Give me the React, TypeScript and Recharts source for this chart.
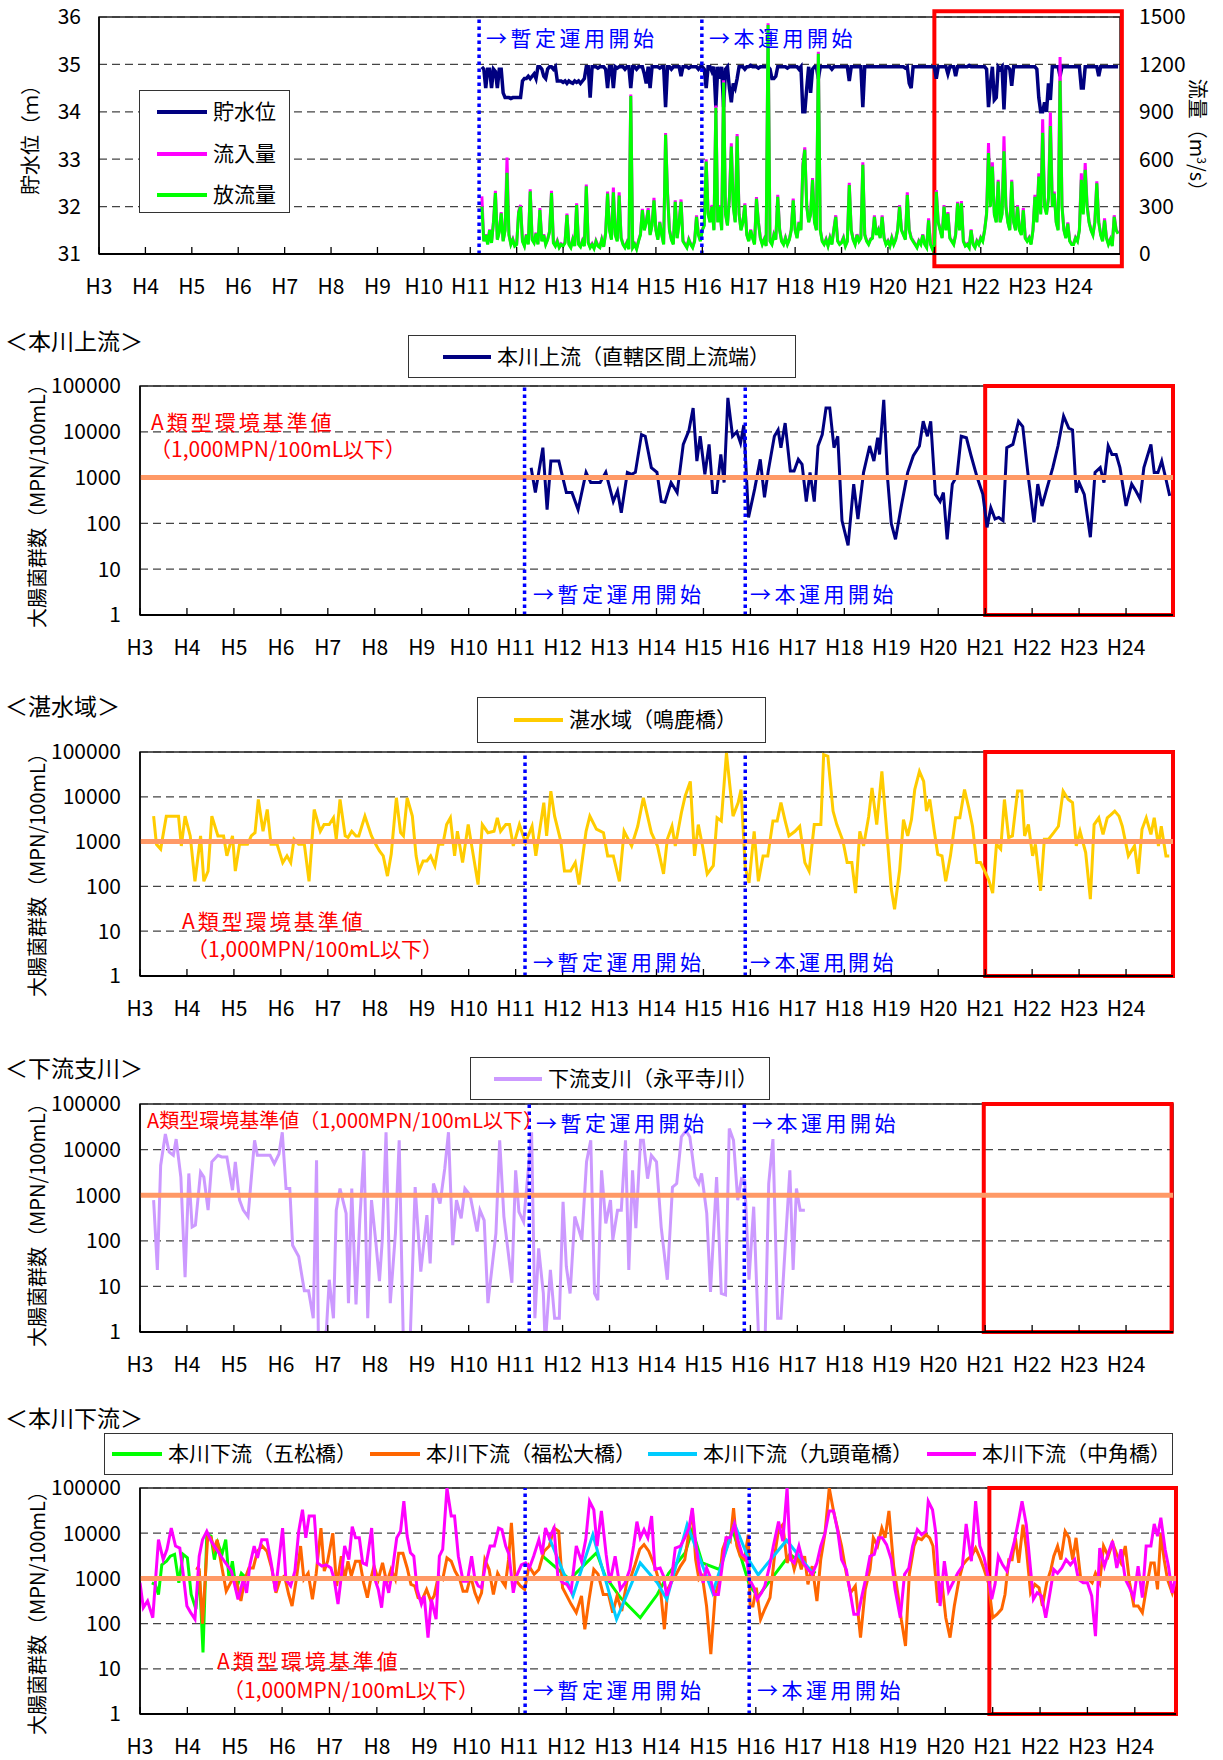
import React from "react";
import { LineChart, Line, XAxis, YAxis, CartesianGrid, ReferenceLine, ReferenceArea } from "recharts";

const FONT = "'Noto Sans CJK JP', 'Noto Sans', sans-serif";
const PAGE_W = 1223;

const yearTicks = [3, 4, 5, 6, 7, 8, 9, 10, 11, 12, 13, 14, 15, 16, 17, 18, 19, 20, 21, 22, 23, 24];
const logTicks = [1, 10, 100, 1000, 10000, 100000];
const levelTicks = [31, 32, 33, 34, 35, 36];
const flowTicks = [0, 300, 600, 900, 1200, 1500];
const STANDARD = 1000;

// ダム：半月ごと（H11.25 から）
const DAM_START = 11.25;
const levelValues = [
  34.95, 34.9, 34.5, 34.9, 34.9, 34.5, 34.9, 34.85, 34.5, 34.9, 34.9, 34.4, 34.3, 34.3, 34.3, 34.28, 34.3, 34.3,
  34.3, 34.3, 34.3, 34.65, 34.7, 34.7, 34.75, 34.7, 34.75, 34.8, 34.7, 34.95, 34.95, 34.9, 34.75, 34.7, 34.9, 34.95, 34.95, 34.9, 34.95, 34.65, 34.65, 34.65,
  34.62, 34.65, 34.6, 34.65, 34.62, 34.6, 34.65, 34.62, 34.65, 34.6, 34.65, 34.7, 34.95, 34.95, 34.3, 34.95, 34.95, 34.95, 34.92, 34.95, 34.95, 34.95, 34.9, 34.5,
  34.95, 34.95, 34.5, 34.95, 34.92, 34.95, 34.95, 34.95, 34.9, 34.95, 34.95, 34.5, 34.95, 34.95, 34.9, 34.95, 34.95, 34.95, 34.8, 34.6, 34.95, 34.5, 34.95, 34.95,
  34.95, 34.95, 34.92, 34.95, 34.95, 34.1, 34.95, 34.95, 34.9, 34.95, 34.95, 34.95, 34.95, 34.75, 34.95, 34.95, 34.95, 34.92, 34.95, 34.95, 34.95, 34.95, 34.9, 34.95,
  34.95, 34.9, 34.5, 34.95, 34.95, 34.85, 34.95, 34.1, 34.95, 34.7, 34.95, 34.1, 34.9, 34.95, 34.5, 34.2, 34.6, 34.5, 34.7, 34.95, 34.95, 34.95, 34.9, 34.95,
  34.95, 34.98, 34.95, 34.95, 34.95, 34.92, 34.95, 34.95, 34.95, 34.95, 34.95, 34.9, 34.7, 34.7, 34.75, 34.95, 34.95, 34.95, 34.95, 34.95, 34.92, 34.95, 34.95, 34.95,
  34.95, 34.95, 34.9, 34.95, 34.0, 34.0, 34.5, 34.95, 34.4, 34.9, 34.95, 34.95, 34.7, 34.95, 34.95, 34.95, 34.95, 34.95, 34.95, 34.9, 34.95, 34.95, 34.95, 34.95,
  34.95, 34.95, 34.95, 34.95, 34.65, 34.95, 34.95, 34.95, 34.95, 34.95, 34.95, 34.1, 34.95, 34.95, 34.95, 34.95, 34.95, 34.95, 34.95, 34.95, 34.95, 34.95, 34.95, 34.95,
  34.95, 34.95, 34.95, 34.95, 34.95, 34.95, 34.95, 34.95, 34.95, 34.92, 34.95, 34.6, 34.5, 34.95, 34.95, 34.95, 34.95, 34.95, 34.95, 34.95, 34.95, 34.95, 34.95, 34.95,
  34.95, 34.7, 34.95, 34.95, 34.95, 34.95, 34.95, 34.8, 34.95, 34.95, 34.95, 34.75, 34.95, 34.95, 34.95, 34.95, 34.95, 34.95, 34.98, 34.95, 34.95, 34.95, 34.95, 34.95,
  34.95, 34.95, 34.95, 34.9, 34.1, 34.6, 34.95, 34.25, 34.3, 34.95, 34.9, 34.95, 34.05, 34.95, 34.95, 34.9, 34.55, 34.95, 34.95, 34.95, 34.95, 34.95, 34.95, 34.95,
  34.95, 34.95, 34.95, 34.95, 34.95, 34.9, 34.3, 34.0, 34.0, 34.2, 34.0, 34.6, 34.25, 34.95, 34.95, 34.95, 34.95, 34.75, 34.95, 34.95, 34.95, 34.95, 34.95, 34.95,
  34.95, 34.95, 34.95, 34.95, 34.5, 34.5, 34.95, 34.95, 34.95, 34.95, 34.95, 34.95, 34.95, 34.75, 34.95, 34.95, 34.95, 34.95, 34.95, 34.95, 34.95, 34.95, 34.95, 34.95,
];
const outflowValues = [
  300, 80, 120, 60, 150, 70, 200, 385, 90, 140, 257, 80, 150, 514, 120, 60, 90, 50,
  60, 260, 300, 80, 50, 120, 60, 396, 90, 70, 130, 60, 278, 80, 120, 60, 90, 140, 385, 70, 50, 80, 40, 60,
  50, 70, 246, 60, 40, 90, 50, 310, 60, 45, 80, 50, 428, 70, 40, 60, 35, 80, 50, 40, 90, 45, 130, 383,
  150, 90, 390, 120, 80, 370, 100, 60, 40, 70, 30, 1000, 40, 60, 30, 80, 120, 277, 150, 200, 277, 120, 180, 340,
  150, 90, 200, 120, 60, 755, 383, 150, 90, 60, 330, 100, 200, 330, 80, 60, 40, 90, 60, 40, 80, 235, 120, 80,
  150, 180, 585, 250, 200, 300, 150, 926, 200, 300, 150, 1085, 250, 180, 350, 680, 300, 200, 745, 250, 150, 200, 310, 120,
  80, 150, 100, 60, 350, 200, 100, 60, 90, 50, 1450, 80, 60, 120, 90, 362, 150, 80, 60, 100, 60, 90, 150, 340,
  150, 100, 200, 150, 554, 660, 300, 200, 250, 469, 200, 150, 1267, 150, 80, 60, 90, 50, 100, 60, 150, 235, 80, 60,
  70, 100, 50, 80, 437, 150, 90, 60, 120, 80, 100, 565, 120, 80, 60, 90, 100, 235, 120, 150, 100, 235, 100, 60,
  80, 50, 100, 60, 90, 150, 300, 150, 120, 90, 373, 150, 100, 80, 60, 40, 80, 60, 120, 60, 40, 213, 60, 30,
  60, 394, 200, 150, 100, 300, 150, 255, 100, 80, 60, 120, 320, 150, 320, 80, 50, 60, 40, 150, 60, 40, 80, 60,
  100, 80, 150, 250, 639, 300, 554, 250, 200, 458, 200, 250, 650, 300, 200, 150, 458, 200, 150, 300, 150, 120, 277, 100,
  80, 100, 60, 150, 362, 200, 490, 250, 767, 300, 250, 350, 810, 300, 383, 200, 150, 1097, 300, 150, 100, 192, 80, 60,
  60, 100, 80, 150, 469, 250, 533, 300, 200, 150, 120, 200, 447, 200, 120, 80, 213, 100, 60, 90, 50, 235, 150, 128,
];
const inflowValues = [
  365, 85, 125, 65, 155, 75, 205, 400, 95, 145, 265, 85, 155, 610, 125, 65, 95, 55,
  65, 270, 310, 85, 55, 125, 65, 410, 95, 75, 135, 65, 290, 85, 125, 65, 95, 145, 400, 75, 55, 85, 45, 65,
  55, 75, 255, 65, 45, 95, 55, 320, 65, 50, 85, 55, 440, 75, 45, 65, 40, 85, 55, 45, 95, 50, 135, 395,
  160, 95, 420, 125, 85, 390, 105, 65, 45, 75, 35, 1010, 45, 65, 35, 85, 125, 285, 155, 205, 290, 125, 185, 355,
  155, 95, 205, 125, 65, 766, 395, 155, 95, 65, 340, 105, 205, 345, 85, 65, 45, 95, 65, 45, 85, 245, 125, 85,
  155, 185, 600, 260, 205, 310, 155, 940, 205, 310, 155, 1100, 260, 185, 360, 700, 310, 205, 760, 260, 155, 205, 320, 125,
  85, 155, 105, 65, 360, 205, 105, 65, 95, 55, 1460, 85, 65, 125, 95, 375, 155, 85, 65, 105, 65, 95, 155, 350,
  155, 105, 205, 155, 570, 675, 310, 205, 255, 480, 205, 155, 1280, 155, 85, 65, 95, 55, 105, 65, 155, 245, 85, 65,
  75, 105, 55, 85, 450, 155, 95, 65, 125, 85, 105, 580, 125, 85, 65, 95, 105, 245, 125, 155, 105, 245, 105, 65,
  85, 55, 105, 65, 95, 155, 310, 155, 125, 95, 390, 155, 105, 85, 65, 45, 85, 65, 125, 65, 45, 225, 65, 35,
  65, 405, 205, 155, 105, 310, 155, 265, 105, 85, 65, 125, 330, 155, 335, 85, 55, 65, 45, 155, 65, 45, 85, 65,
  105, 85, 155, 260, 703, 310, 580, 260, 205, 470, 205, 260, 745, 310, 205, 155, 470, 205, 155, 310, 155, 125, 290, 105,
  85, 105, 65, 155, 375, 205, 510, 260, 852, 310, 260, 360, 895, 310, 395, 205, 155, 1246, 310, 155, 105, 200, 85, 65,
  65, 105, 85, 155, 511, 260, 575, 310, 205, 155, 125, 205, 460, 205, 125, 85, 225, 105, 65, 95, 55, 245, 155, 135,
];

// 本川上流（直轄区間上流端）
const upperYears = [
  11.33, 11.42, 11.58, 11.67, 11.75, 11.92,
  12.08, 12.2, 12.33, 12.5, 12.6, 12.8, 12.92,
  13.08, 13.17, 13.25, 13.38, 13.47, 13.55, 13.68, 13.76, 13.89,
  14.01, 14.1, 14.18, 14.31, 14.44, 14.57, 14.69, 14.78, 14.86, 14.93,
  15.03, 15.12, 15.2, 15.28, 15.37, 15.44, 15.52, 15.62, 15.71, 15.79, 15.86, 15.96,
  16.09, 16.21, 16.3, 16.38, 16.51, 16.59, 16.65, 16.74, 16.85, 16.93,
  17.02, 17.1, 17.19, 17.27, 17.36, 17.44, 17.53, 17.61, 17.69, 17.78, 17.86, 17.95,
  18.08, 18.2, 18.29, 18.41, 18.54, 18.63, 18.71, 18.75, 18.84, 18.92,
  19.0, 19.09, 19.22, 19.35, 19.47, 19.6, 19.68, 19.77, 19.84, 19.94,
  20.04, 20.11, 20.19, 20.3, 20.4, 20.49, 20.6, 20.7, 20.83, 20.95,
  21.04, 21.12, 21.21, 21.29, 21.38, 21.46, 21.59, 21.71, 21.8, 21.92,
  22.04, 22.12, 22.21, 22.31, 22.44, 22.55, 22.67, 22.78, 22.86, 22.94,
  23.0, 23.11, 23.24, 23.34, 23.45, 23.53, 23.62, 23.7, 23.79, 23.87,
  24.0, 24.12, 24.21, 24.3, 24.38, 24.53, 24.6, 24.68, 24.76, 24.85, 24.93,
];
const upperValues = [
  1650, 470, 4500, 200, 2300, 2300,
  470, 470, 200, 1300, 780, 780, 1300,
  300, 510, 170, 1300, 1180, 1300, 8700, 8000, 1650,
  1300, 300, 290, 780, 470, 5300, 10700, 33000, 2300, 8000,
  1180, 5300, 470, 470, 3200, 780, 55000, 8000, 10000, 5700, 14000, 135,
  560, 2500, 370, 1400, 8000, 11000, 4500, 15500, 1400, 1400,
  2500, 1950, 300, 1300, 300, 4900, 8700, 33000, 33000, 4500, 8000, 115,
  33, 720, 125, 1300, 4900, 2300, 7400, 3200, 50000, 1000,
  100, 45, 260, 1300, 3000, 4900, 17000, 8000, 17000, 430,
  300, 470, 45, 720, 1100, 8000, 7400, 3000, 1000, 430,
  82, 220, 125, 135, 115, 4500, 5300, 17000, 13000, 1000,
  105, 720, 240, 560, 1650, 4900, 22000, 12000, 11000, 470,
  780, 430, 50, 1300, 1650, 780, 4900, 3200, 3200, 1650,
  240, 720, 510, 340, 1650, 5300, 1300, 1300, 2300, 920, 400,
];

// 湛水域（鳴鹿橋）
const lakeYears = [
  3.29, 3.35, 3.44, 3.56, 3.69, 3.82, 3.88, 3.96,
  4.07, 4.17, 4.29, 4.36, 4.45, 4.53, 4.66, 4.78, 4.85, 4.97,
  5.03, 5.12, 5.29, 5.37, 5.45, 5.52, 5.62, 5.71, 5.79, 5.92,
  6.04, 6.13, 6.21, 6.28, 6.38, 6.5, 6.6, 6.71, 6.84, 6.92,
  7.03, 7.12, 7.18, 7.26, 7.37, 7.43, 7.51, 7.6, 7.66, 7.79, 7.93,
  8.02, 8.1, 8.18, 8.27, 8.35, 8.46, 8.55, 8.61, 8.69, 8.8, 8.88, 8.94,
  9.03, 9.11, 9.19, 9.28, 9.36, 9.45, 9.53, 9.61, 9.7, 9.76, 9.87, 9.99,
  10.1, 10.2, 10.29, 10.41, 10.54, 10.61, 10.68, 10.79, 10.87, 10.95,
  11.08, 11.21, 11.35, 11.43, 11.6, 11.66, 11.75, 11.83, 11.96,
  12.04, 12.17, 12.27, 12.35, 12.5, 12.58, 12.72, 12.87, 12.96,
  13.08, 13.21, 13.31, 13.47, 13.6, 13.72, 13.89,
  14.02, 14.15, 14.23, 14.33, 14.4, 14.53, 14.61, 14.72, 14.81, 14.89, 14.98,
  15.08, 15.21, 15.29, 15.38, 15.49, 15.63, 15.74, 15.8, 15.89, 15.97,
  16.08, 16.17, 16.27, 16.37, 16.48, 16.57, 16.65, 16.74, 16.82, 16.95,
  17.05, 17.16, 17.25, 17.36, 17.5, 17.56, 17.65, 17.76, 17.84, 17.97,
  18.06, 18.16, 18.24, 18.33, 18.41, 18.52, 18.59, 18.69, 18.8, 18.9,
  19.0, 19.07, 19.18, 19.26, 19.35, 19.43, 19.5, 19.6, 19.69, 19.75, 19.82, 19.91, 19.99,
  20.08, 20.16, 20.26, 20.37, 20.46, 20.56, 20.65, 20.73, 20.82, 20.9, 20.99,
  21.07, 21.16, 21.24, 21.33, 21.41, 21.5, 21.58, 21.69, 21.78, 21.84, 21.92,
  22.01, 22.07, 22.18, 22.26, 22.35, 22.46, 22.56, 22.66, 22.77, 22.86, 22.94,
  23.02, 23.14, 23.24, 23.32, 23.42, 23.51, 23.6, 23.68, 23.76, 23.85, 23.92,
  24.05, 24.18, 24.26, 24.34, 24.43, 24.53, 24.6, 24.69, 24.75, 24.85, 24.92,
];
const lakeValues = [
  3700, 870, 680, 3700, 3700, 3700, 800, 3700,
  1340, 130, 1340, 130, 220, 3700, 1340, 1340, 480, 1340,
  220, 870, 870, 1340, 1580, 8700, 1700, 5200, 870, 870,
  340, 480, 340, 1130, 870, 870, 130, 5200, 1700, 2400,
  2400, 3400, 1130, 8700, 1340, 1230, 1700, 1340, 1340, 3700, 1340,
  870, 620, 480, 170, 520, 9500, 1580, 1340, 9500, 3700, 480, 220,
  370, 370, 480, 290, 870, 870, 2400, 3400, 480, 1700, 340, 2400,
  480, 110, 2400, 1580, 1700, 3400, 1700, 2400, 2400, 800,
  2400, 950, 2200, 480, 7400, 1340, 13400, 3700, 1040,
  220, 220, 340, 110, 1700, 3700, 1900, 1580, 480,
  480, 130, 1700, 800, 2200, 9500, 1580,
  800, 190, 1130, 2200, 800, 4400, 10300, 22000, 480, 2400, 800,
  190, 290, 3400, 2900, 95000, 3700, 7400, 14500, 265, 120,
  1700, 130, 480, 480, 2900, 2900, 7400, 2900, 1340, 1700,
  2200, 340, 220, 2400, 2400, 87000, 80000, 4800, 2400, 1040,
  340, 340, 71, 1700, 800, 3700, 15800, 2400, 37000, 1880,
  87, 31, 240, 3100, 1340, 3100, 14500, 37000, 22000, 4800, 8700, 1880, 520,
  480, 130, 480, 3400, 3400, 14500, 5700, 2200, 340, 340, 220,
  145, 71, 870, 680, 8700, 1230, 1340, 13400, 13400, 1340, 2400,
  480, 870, 80, 1130, 1130, 1580, 2200, 13400, 8700, 7400, 800,
  1700, 570, 52, 2400, 3400, 1450, 3400, 4000, 4800, 3700, 2200,
  480, 800, 190, 1880, 3400, 1450, 3400, 800, 2200, 480, 480,
];

// 下流支川（永平寺川）
const branchYears = [
  3.29, 3.37, 3.44, 3.54, 3.62, 3.71, 3.77, 3.87, 3.96,
  4.04, 4.11, 4.18, 4.29, 4.36, 4.45, 4.53, 4.66, 4.74, 4.85, 4.97,
  5.03, 5.12, 5.2, 5.3, 5.44, 5.5, 5.62, 5.77, 5.86, 5.96,
  6.03, 6.11, 6.19, 6.25, 6.38, 6.5, 6.59, 6.69, 6.76, 6.8, 6.97,
  7.03, 7.12, 7.18, 7.26, 7.39, 7.44, 7.51, 7.6, 7.68, 7.77, 7.85, 7.93,
  8.02, 8.1, 8.16, 8.24, 8.33, 8.44, 8.52, 8.61, 8.75, 8.86, 8.98,
  9.11, 9.18, 9.25, 9.39, 9.49, 9.57, 9.66, 9.74, 9.84, 9.92,
  10.03, 10.18, 10.24, 10.33, 10.41, 10.58, 10.66, 10.75, 10.92,
  11.0, 11.07, 11.17, 11.34, 11.41, 11.49, 11.59, 11.63, 11.74, 11.83, 11.93,
  12.01, 12.08, 12.16, 12.26, 12.35, 12.41, 12.51, 12.6, 12.68, 12.75, 12.83, 12.92,
  13.02, 13.07, 13.17, 13.25, 13.34, 13.41, 13.49, 13.56, 13.66, 13.72, 13.81, 13.89,
  14.0, 14.1, 14.23, 14.34, 14.43, 14.53, 14.63, 14.71, 14.82, 14.9, 14.96,
  15.07, 15.15, 15.28, 15.38, 15.47, 15.55, 15.64, 15.73, 15.81, 15.88, 15.97,
  16.07, 16.18, 16.31, 16.39, 16.48, 16.58, 16.65, 16.75, 16.84, 16.91, 16.98,
  17.06, 17.16,
];
const branchValues = [
  780, 23, 4500, 22000, 8900, 7500, 17000, 2500, 16,
  3000, 200, 220, 3200, 2500, 470, 5400, 7500, 6900, 6900, 1290,
  5400, 780, 470, 340, 16000, 7500, 7500, 7500, 4900, 8000,
  24000, 1400, 1400, 80, 45, 8, 8, 2, 5800, 0.5, 1.1,
  14, 2, 470, 1400, 400, 4.3, 1400, 4, 280, 9700, 2, 780,
  100, 13, 105, 24000, 4.3, 145, 16000, 0.5, 0.5, 1500, 21,
  365, 32, 1800, 660, 3800, 24000, 80, 780, 310, 1400,
  1000, 160, 470, 280, 4.3, 145, 16000, 340, 12,
  3500, 430, 260, 24000, 2, 68, 7, 0.5, 23, 2, 2,
  720, 27, 7, 340, 170, 105, 5400, 16000, 7, 5, 3500, 240,
  780, 105, 470, 470, 16000, 23, 3500, 190, 16000, 16000, 2300, 7500,
  5400, 200, 14, 1500, 1800, 19000, 26000, 19000, 2500, 1800, 3000,
  400, 7.6, 2500, 7, 6.5, 29000, 16000, 780, 2300, 2100, 14,
  560, 0.5, 0.5, 1800, 17000, 2, 2, 105, 3500, 23, 1400,
  470, 470,
];

// 本川下流（五松橋）
const gomatsuYears = [
  3.25, 3.32, 3.39, 3.46, 3.56, 3.64, 3.73, 3.82, 3.91, 4.0,
  4.08, 4.18, 4.25, 4.33, 4.41, 4.5, 4.57, 4.64, 4.73, 4.81, 4.88, 4.95,
  5.03, 5.14, 5.21, 8.0,
  11.5, 12.07, 12.49, 12.64, 12.82, 13.14, 13.56, 13.92, 14.16, 14.51, 14.66, 14.87, 15.23, 15.51, 15.87, 16.05, 16.72, 17.26,
];
const gomatsuValues = [
  800, 740, 440, 2000, 2400, 3100, 3400, 800, 3400, 2850,
  440, 210, 1450, 23, 9300, 8600, 2600, 6100, 3400, 7200, 950, 2400,
  570, 1300, 1100, null,
  3100, 950, 2600, 3700, 1130, 375, 135, 440, 1300, 3700, 12000, 2200, 1580, 12000, 680, 400, 3400, 1300,
];

// 本川下流（福松大橋）
const fukumatsuYears = [
  4.18, 4.25, 4.32, 4.43, 4.5, 4.56, 4.63, 4.7, 4.82, 4.93,
  5.03, 5.13, 5.21, 5.3, 5.39, 5.48, 5.58, 5.68, 5.78, 5.87, 5.96,
  6.05, 6.14, 6.21, 6.3, 6.39, 6.46, 6.55, 6.64, 6.72, 6.82, 6.89, 6.96,
  7.07, 7.15, 7.25, 7.32, 7.39, 7.46, 7.55, 7.64, 7.72, 7.8, 7.87, 7.94,
  8.03, 8.12, 8.21, 8.3, 8.39, 8.46, 8.55, 8.64, 8.72, 8.8, 8.87, 8.96,
  9.05, 9.14, 9.21, 9.3, 9.39, 9.48, 9.57, 9.65, 9.75, 9.82, 9.9, 9.98,
  10.07, 10.14, 10.21, 10.28, 10.37, 10.46, 10.55, 10.62, 10.71, 10.78, 10.84, 10.92,
  11.03, 11.12, 11.21, 11.32, 11.42, 11.53, 11.64, 11.74, 11.84, 11.92,
  12.01, 12.1, 12.21, 12.32, 12.39, 12.48, 12.58, 12.67, 12.78, 12.89, 12.98,
  13.07, 13.17, 13.28, 13.37, 13.45, 13.55, 13.64, 13.74, 13.84, 13.91, 13.98,
  14.07, 14.14, 14.21, 14.3, 14.41, 14.5, 14.59, 14.66, 14.73, 14.8, 14.87, 14.96,
  15.05, 15.14, 15.23, 15.3, 15.39, 15.46, 15.53, 15.6, 15.67, 15.76, 15.84, 15.88, 15.94,
  16.01, 16.1, 16.19, 16.3, 16.39, 16.48, 16.57, 16.66, 16.73, 16.81, 16.89, 16.96,
  17.03, 17.1, 17.19, 17.29, 17.37, 17.46, 17.55, 17.64, 17.73, 17.81, 17.91,
  18.0, 18.1, 18.21, 18.31, 18.41, 18.48, 18.57, 18.66, 18.73, 18.81, 18.91,
  19.0, 19.07, 19.16, 19.24, 19.34, 19.41, 19.5, 19.59, 19.67, 19.74, 19.84, 19.93,
  20.01, 20.1, 20.19, 20.29, 20.37, 20.46, 20.55, 20.64, 20.73, 20.82, 20.91,
  21.0, 21.09, 21.19, 21.26, 21.34, 21.41, 21.48, 21.55, 21.64, 21.71, 21.8, 21.89, 21.98,
  22.05, 22.14, 22.23, 22.29, 22.37, 22.44, 22.53, 22.61, 22.69, 22.76, 22.86,
  23.03, 23.1, 23.17, 23.26, 23.34, 23.44, 23.53, 23.62, 23.71, 23.8, 23.89, 23.98,
  24.07, 24.16, 24.24, 24.34, 24.41, 24.48, 24.55, 24.62, 24.69, 24.79, 24.87,
];
const fukumatsuValues = [
  1700, 1580, 100, 8600, 8000, 4400, 7200, 2600, 520, 870,
  950, 316, 950, 1700, 1700, 4000, 5200, 4000, 1700, 480, 950,
  1130, 440, 245, 950, 5200, 950, 1300, 345, 1300, 13000, 1450, 2400,
  10000, 680, 3100, 950, 2400, 1130, 2400, 2400, 800, 375, 950, 1870,
  950, 2200, 800, 1580, 950, 3600, 3600, 1700, 740, 680, 375, 345,
  570, 316, 410, 1130, 950, 2850, 2400, 1450, 950, 520, 520, 1130,
  480, 316, 480, 2600, 1580, 440, 1300, 950, 680, 2600, 17000, 950,
  680, 570, 1870, 1230, 1580, 4000, 5200, 13000, 11000, 620,
  410, 270, 175, 410, 75, 345, 1580, 1230, 440, 440, 175,
  410, 190, 870, 1130, 2000, 4400, 5600, 4000, 2200, 1300, 680,
  75, 570, 800, 1130, 1870, 2600, 11000, 33000, 2600, 950, 1130, 245,
  21, 410, 950, 4400, 7900, 6700, 36000, 5200, 3100, 2600, 9300, 245, 245,
  620, 125, 210, 375, 2850, 12000, 15500, 2200, 3600, 1580, 3100, 1580,
  3100, 740, 1870, 316, 2600, 10000, 100000, 31000, 12000, 5200, 1300,
  480, 680, 49, 570, 1580, 7900, 5200, 13000, 7900, 31000, 1870,
  440, 125, 32, 1230, 5200, 7900, 7200, 9300, 7900, 5200, 290, 800,
  135, 49, 245, 950, 2000, 2600, 3100, 4700, 2850, 1580, 800,
  135, 160, 210, 440, 2600, 2600, 7900, 2200, 15500, 4700, 480, 740, 620,
  245, 800, 1580, 3100, 5200, 2600, 11000, 7900, 2600, 7900, 950,
  950, 800, 1300, 800, 5200, 3100, 6100, 3400, 2200, 5200, 800, 245,
  245, 175, 570, 2200, 2200, 570, 10000, 2600, 950, 480, 1000,
];

// 本川下流（九頭竜橋）
const kuzuryuYears = [11.64, 12.14, 12.56, 13.06, 13.56, 13.92, 14.12, 14.55, 15.09, 15.55, 15.87, 16.05, 16.65, 17.2];
const kuzuryuValues = [7900, 410, 9300, 125, 2200, 800, 345, 15500, 480, 16000, 2400, 1200, 7000, 1300];

// 本川下流（中角橋）
const nakazunoYears = [
  3.0, 3.07, 3.16, 3.27, 3.39, 3.49, 3.57, 3.66, 3.75, 3.84, 3.91, 3.99,
  4.07, 4.16, 4.25, 4.32, 4.41, 4.5, 4.64, 4.78, 4.93,
  5.07, 5.18, 5.25, 5.32, 5.41, 5.48, 5.57, 5.68, 5.77, 5.86, 5.93,
  6.01, 6.08, 6.18, 6.27, 6.35, 6.43, 6.5, 6.57, 6.68, 6.75, 6.84, 6.93,
  7.03, 7.1, 7.18, 7.25, 7.32, 7.41, 7.48, 7.55, 7.63, 7.7, 7.78, 7.89, 7.96,
  8.03, 8.1, 8.17, 8.25, 8.32, 8.42, 8.5, 8.57, 8.64, 8.71, 8.78, 8.85, 8.94,
  9.0, 9.08, 9.15, 9.25, 9.32, 9.39, 9.48, 9.57, 9.64, 9.72, 9.82, 9.91,
  10.0, 10.07, 10.14, 10.21, 10.3, 10.39, 10.48, 10.57, 10.64, 10.72, 10.79, 10.88, 10.95,
  11.05, 11.14, 11.22, 11.31, 11.42, 11.49, 11.56, 11.64, 11.74, 11.82, 11.92,
  12.01, 12.1, 12.21, 12.32, 12.41, 12.49, 12.58, 12.65, 12.74, 12.84, 12.92,
  13.03, 13.14, 13.24, 13.34, 13.42, 13.49, 13.56, 13.64, 13.72, 13.8, 13.87, 13.98,
  14.05, 14.12, 14.21, 14.3, 14.41, 14.5, 14.59, 14.66, 14.73, 14.81, 14.89, 14.96,
  15.03, 15.12, 15.21, 15.29, 15.37, 15.46, 15.55, 15.62, 15.71, 15.8, 15.87, 15.96,
  16.03, 16.12, 16.19, 16.29, 16.37, 16.48, 16.57, 16.66, 16.73, 16.81, 16.91,
  17.0, 17.1, 17.19, 17.29, 17.37, 17.46, 17.55, 17.64, 17.73, 17.81, 17.91,
  18.0, 18.07, 18.16, 18.24, 18.34, 18.41, 18.5, 18.59, 18.67, 18.76, 18.86, 18.94,
  19.05, 19.14, 19.23, 19.31, 19.41, 19.5, 19.59, 19.64, 19.73, 19.8, 19.89, 19.98,
  20.07, 20.16, 20.26, 20.36, 20.44, 20.55, 20.64, 20.73, 20.82, 20.91, 20.98,
  21.05, 21.12, 21.21, 21.3, 21.37, 21.46, 21.55, 21.62, 21.71, 21.8, 21.86, 21.94,
  22.03, 22.12, 22.21, 22.29, 22.37, 22.46, 22.55, 22.64, 22.73, 22.81, 22.91,
  23.0, 23.09, 23.17, 23.26, 23.36, 23.44, 23.53, 23.62, 23.71, 23.8, 23.89, 23.98,
  24.07, 24.16, 24.24, 24.34, 24.41, 24.48, 24.55, 24.64, 24.71, 24.79, 24.87,
];
const nakazunoValues = [
  800, 225, 316, 135, 7200, 2600, 4400, 13000, 5200, 4700, 1300, 245,
  175, 125, 3100, 7200, 11000, 6700, 4000, 2400, 1450,
  345, 950, 480, 2000, 5200, 2850, 7200, 7200, 2200, 520, 2400,
  13000, 950, 680, 1450, 11000, 33000, 7900, 24000, 24000, 2200, 1870, 2000,
  1700, 950, 270, 1130, 5200, 2600, 14000, 7900, 7900, 2200, 2000, 13000, 950,
  570, 225, 1130, 480, 1300, 7900, 11000, 51000, 8600, 3700, 3100, 570, 270,
  410, 49, 345, 125, 3100, 4400, 100000, 24000, 24000, 3100, 870, 870,
  3100, 950, 680, 620, 2200, 5200, 5200, 13000, 12000, 5200, 3400, 480, 1130,
  2000, 2200, 1700, 3100, 7200, 3400, 13000, 7900, 13000, 1130, 800,
  740, 520, 5200, 2400, 7200, 51000, 33000, 5200, 31000, 3400, 800,
  3100, 570, 800, 1580, 5200, 18000, 7900, 12000, 7900, 24000, 1580, 1700,
  1130, 410, 800, 4700, 5200, 7900, 13000, 36000, 6100, 1580, 800, 1700,
  1130, 440, 440, 1870, 7900, 7900, 16000, 7200, 3400, 2850, 950, 620,
  345, 480, 680, 1870, 5200, 18000, 6700, 100000, 2600, 2200, 5200,
  2200, 1580, 1230, 2200, 5200, 10000, 31000, 31000, 11000, 2600, 1580,
  440, 160, 160, 410, 1230, 3100, 3400, 7900, 7900, 5600, 2600, 570,
  135, 1230, 1700, 5200, 12000, 9300, 11000, 51000, 33000, 10000, 245, 2400,
  520, 800, 1300, 1870, 16000, 2400, 51000, 5200, 2850, 1030, 345,
  740, 3100, 2000, 1450, 2850, 6700, 20000, 51000, 15500, 1580, 345, 480,
  410, 135, 480, 1580, 1300, 1700, 2600, 2000, 2600, 950, 800,
  800, 410, 53, 4700, 1870, 3600, 6700, 1700, 4400, 950, 620, 375,
  1870, 375, 5200, 5200, 16000, 8600, 22000, 4400, 1870, 480, 1130,
];

const damRows = outflowValues.map((q, i) => ({
  x: DAM_START + i / 24,
  level: levelValues[i],
  inflow: inflowValues[i],
  outflow: q,
}));

function rows(years: number[], values: (number | null)[]) {
  return years.map((x, i) => ({ x, v: values[i] }));
}

type Series = { name: string; color: string; years: number[]; values: (number | null)[] };

function YearTick(props: any) {
  const { x, y, payload } = props;
  return (
    <g>
      <line x1={x} x2={x} y1={y} y2={y - 7} stroke="#000" strokeWidth={1.3} />
      <text x={x} y={y + 40} textAnchor="middle" fontSize={21} fontFamily={FONT} fill="#000">
        {`H${payload.value}`}
      </text>
    </g>
  );
}

const tickStyle = { fill: "#000", fontSize: 21, fontFamily: FONT };
const TOP_PAD = 20;

function LogPanel({ plotTop, plotBottom, plotRight, xMax, series, starts, box }: {
  plotTop: number; plotBottom: number; plotRight: number; xMax: number; series: Series[]; starts: number[]; box: [number, number];
}) {
  const height = plotBottom - plotTop + TOP_PAD + 46;
  return (
    <div style={{ position: "absolute", left: 0, top: plotTop - TOP_PAD }}>
      <LineChart width={PAGE_W} height={height} margin={{ top: TOP_PAD, right: PAGE_W - plotRight, bottom: 6, left: 80 }}>
        <CartesianGrid vertical={false} stroke="#444" strokeWidth={1.2} strokeDasharray="8 5" />
        <XAxis type="number" dataKey="x" domain={[3, xMax]} ticks={yearTicks} interval={0} allowDataOverflow height={40}
          tickSize={0} tickMargin={0} tickLine={false} axisLine={{ stroke: "#000", strokeWidth: 2 }}
          tick={(p: any) => <YearTick {...p} />} />
        <YAxis type="number" scale="log" domain={[1, 100000]} ticks={logTicks} interval={0} allowDataOverflow width={60}
          tickSize={0} tickMargin={19} tickLine={false} axisLine={{ stroke: "#000", strokeWidth: 1.5 }} tick={tickStyle} />
        <ReferenceArea x1={3} x2={xMax} y1={1} y2={100000} fill="none" stroke="#222" strokeWidth={1.5} />
        {series.map((s) => (
          <Line key={s.name} data={rows(s.years, s.values)} dataKey="v" type="linear" stroke={s.color} strokeWidth={3}
            dot={false} activeDot={false} isAnimationActive={false} connectNulls={false} />
        ))}
        <ReferenceLine y={STANDARD} stroke="#FF9966" strokeWidth={5} />
        {starts.map((x) => (
          <ReferenceLine key={x} x={x} stroke="#0000FF" strokeWidth={3.5} strokeDasharray="3.5 3.5" />
        ))}
        <ReferenceArea x1={box[0]} x2={box[1]} y1={1} y2={100000} fill="none" stroke="#FF0000" strokeWidth={4} />
      </LineChart>
    </div>
  );
}

function Txt({ x, y, size = 21, color = "#000", ls = 0, children }: any) {
  return (
    <div style={{ position: "absolute", left: x, top: y - size * 0.55, fontSize: size, lineHeight: 1, color, letterSpacing: ls, whiteSpace: "nowrap", fontFamily: FONT }}>
      {children}
    </div>
  );
}

function VTxt({ x, y, size = 20, rotate = -90, children }: any) {
  return (
    <div style={{ position: "absolute", left: x, top: y, transform: `translate(-50%, -50%) rotate(${rotate}deg)`, fontSize: size, lineHeight: 1, whiteSpace: "nowrap", fontFamily: FONT, color: "#000" }}>
      {children}
    </div>
  );
}

function LegendBox({ x1, y1, x2, y2, items }: { x1: number; y1: number; x2: number; y2: number; items: { label: string; color: string; lx: number; tx: number; cy?: number }[] }) {
  const cyDefault = (y1 + y2) / 2;
  return (
    <>
      <div style={{ position: "absolute", left: x1, top: y1, width: x2 - x1, height: y2 - y1, border: "1.5px solid #333", boxSizing: "border-box", background: "#fff" }} />
      {items.map((it) => {
        const cy = it.cy ?? cyDefault;
        return (
          <React.Fragment key={it.label}>
            <div style={{ position: "absolute", left: it.lx, top: cy - 2, width: it.tx - it.lx - 6, height: 4, background: it.color }} />
            <Txt x={it.tx} y={cy} size={21}>{it.label}</Txt>
          </React.Fragment>
        );
      })}
    </>
  );
}

const BLUE = "#0000FF";
const RED = "#FF0000";

export default function App() {
  return (
    <div style={{ position: "absolute", left: 0, top: 0, width: PAGE_W, height: 1760, background: "#fff", fontFamily: FONT, overflow: "hidden" }}>
      {/* ダム：貯水位・流入量・放流量 */}
      <div style={{ position: "absolute", left: 0, top: 0 }}>
        <LineChart width={PAGE_W} height={300} data={damRows} margin={{ top: 17, right: 43, bottom: 6, left: 39 }}>
          <CartesianGrid vertical={false} yAxisId="lv" stroke="#444" strokeWidth={1.2} strokeDasharray="8 5" />
          <XAxis type="number" dataKey="x" domain={[3, 25]} ticks={yearTicks} interval={0} allowDataOverflow height={40}
            tickSize={0} tickMargin={0} tickLine={false} axisLine={{ stroke: "#000", strokeWidth: 2 }}
            tick={(p: any) => <YearTick {...p} />} />
          <YAxis yAxisId="lv" type="number" domain={[31, 36]} ticks={levelTicks} interval={0} width={60}
            tickSize={0} tickMargin={18} tickLine={false} axisLine={{ stroke: "#000", strokeWidth: 1.5 }} tick={tickStyle} />
          <YAxis yAxisId="q" orientation="right" type="number" domain={[0, 1500]} ticks={flowTicks} interval={0} width={60}
            tickSize={0} tickMargin={19} tickLine={false} axisLine={false} tick={tickStyle} />
          <ReferenceArea yAxisId="lv" x1={3} x2={25} y1={31} y2={36} fill="none" stroke="#222" strokeWidth={1.5} />
          <Line yAxisId="lv" dataKey="level" type="linear" stroke="#000080" strokeWidth={3.5} dot={false} activeDot={false} isAnimationActive={false} />
          <Line yAxisId="q" dataKey="inflow" type="linear" stroke="#FF00FF" strokeWidth={3} dot={false} activeDot={false} isAnimationActive={false} />
          <Line yAxisId="q" dataKey="outflow" type="linear" stroke="#00FF00" strokeWidth={3} dot={false} activeDot={false} isAnimationActive={false} />
          <ReferenceLine yAxisId="lv" x={11.19} stroke={BLUE} strokeWidth={3.5} strokeDasharray="3.5 3.5" />
          <ReferenceLine yAxisId="lv" x={15.99} stroke={BLUE} strokeWidth={3.5} strokeDasharray="3.5 3.5" />
          <ReferenceArea yAxisId="lv" x1={21} x2={25.04} y1={30.74} y2={36.12} ifOverflow="visible" fill="none" stroke={RED} strokeWidth={4} />
        </LineChart>
      </div>

      <LogPanel plotTop={386} plotBottom={615} plotRight={1173} xMax={25} starts={[11.19, 15.89]} box={[21, 25]}
        series={[{ name: "upper", color: "#000080", years: upperYears, values: upperValues }]} />
      <LogPanel plotTop={752} plotBottom={976} plotRight={1173} xMax={25} starts={[11.2, 15.89]} box={[21, 25]}
        series={[{ name: "lake", color: "#FFCC00", years: lakeYears, values: lakeValues }]} />
      <LogPanel plotTop={1104} plotBottom={1332} plotRight={1173} xMax={25} starts={[11.29, 15.87]} box={[20.97, 24.97]}
        series={[{ name: "branch", color: "#CC99FF", years: branchYears, values: branchValues }]} />
      <LogPanel plotTop={1488} plotBottom={1714} plotRight={1176} xMax={24.87} starts={[11.13, 15.86]} box={[20.93, 24.87]}
        series={[
          { name: "gomatsu", color: "#00FF00", years: gomatsuYears, values: gomatsuValues },
          { name: "fukumatsu", color: "#FF6600", years: fukumatsuYears, values: fukumatsuValues },
          { name: "kuzuryu", color: "#00CCFF", years: kuzuryuYears, values: kuzuryuValues },
          { name: "nakazuno", color: "#FF00FF", years: nakazunoYears, values: nakazunoValues },
        ]} />

      {/* 軸タイトル */}
      <VTxt x={30} y={135}>貯水位（ｍ）</VTxt>
      <VTxt x={1198} y={140} rotate={90}>流量（m<sup style={{ fontSize: 12 }}>3</sup>/s）</VTxt>
      <VTxt x={37} y={501}>大腸菌群数（MPN/100mL）</VTxt>
      <VTxt x={37} y={870}>大腸菌群数（MPN/100mL）</VTxt>
      <VTxt x={37} y={1220}>大腸菌群数（MPN/100mL）</VTxt>
      <VTxt x={37} y={1608}>大腸菌群数（MPN/100mL）</VTxt>

      {/* 区分見出し */}
      <Txt x={5} y={342} size={23}>＜本川上流＞</Txt>
      <Txt x={5} y={707} size={23}>＜湛水域＞</Txt>
      <Txt x={5} y={1069} size={23}>＜下流支川＞</Txt>
      <Txt x={5} y={1419} size={23}>＜本川下流＞</Txt>

      {/* 凡例 */}
      <LegendBox x1={139} y1={90} x2={290} y2={213} items={[
        { label: "貯水位", color: "#000080", lx: 157, tx: 213, cy: 112 },
        { label: "流入量", color: "#FF00FF", lx: 157, tx: 213, cy: 154 },
        { label: "放流量", color: "#00FF00", lx: 157, tx: 213, cy: 195 },
      ]} />
      <LegendBox x1={408} y1={335} x2={796} y2={378} items={[
        { label: "本川上流（直轄区間上流端）", color: "#000080", lx: 443, tx: 497 },
      ]} />
      <LegendBox x1={477} y1={697} x2={766} y2={743} items={[
        { label: "湛水域（鳴鹿橋）", color: "#FFCC00", lx: 514, tx: 569 },
      ]} />
      <LegendBox x1={470} y1={1057} x2={770} y2={1100} items={[
        { label: "下流支川（永平寺川）", color: "#CC99FF", lx: 494, tx: 548 },
      ]} />
      <LegendBox x1={104} y1={1433} x2={1173} y2={1475} items={[
        { label: "本川下流（五松橋）", color: "#00FF00", lx: 112, tx: 168 },
        { label: "本川下流（福松大橋）", color: "#FF6600", lx: 370, tx: 426 },
        { label: "本川下流（九頭竜橋）", color: "#00CCFF", lx: 648, tx: 703 },
        { label: "本川下流（中角橋）", color: "#FF00FF", lx: 927, tx: 982 },
      ]} />

      {/* 運用開始 */}
      <Txt x={486} y={39} color={BLUE} ls={3.5}>→暫定運用開始</Txt>
      <Txt x={709} y={39} color={BLUE} ls={3.5}>→本運用開始</Txt>
      <Txt x={533} y={595} color={BLUE} ls={3.5}>→暫定運用開始</Txt>
      <Txt x={750} y={595} color={BLUE} ls={3.5}>→本運用開始</Txt>
      <Txt x={533} y={963} color={BLUE} ls={3.5}>→暫定運用開始</Txt>
      <Txt x={750} y={963} color={BLUE} ls={3.5}>→本運用開始</Txt>
      <Txt x={536} y={1124} color={BLUE} ls={3.5}>→暫定運用開始</Txt>
      <Txt x={752} y={1124} color={BLUE} ls={3.5}>→本運用開始</Txt>
      <Txt x={533} y={1691} color={BLUE} ls={3.5}>→暫定運用開始</Txt>
      <Txt x={757} y={1691} color={BLUE} ls={3.5}>→本運用開始</Txt>

      {/* 環境基準値 */}
      <Txt x={151} y={423} color={RED} ls={3}>A類型環境基準値</Txt>
      <Txt x={150} y={450} color={RED}>（1,000MPN/100mL以下）</Txt>
      <Txt x={182} y={922} color={RED} ls={3}>A類型環境基準値</Txt>
      <Txt x={187} y={950} color={RED}>（1,000MPN/100mL以下）</Txt>
      <Txt x={147} y={1121} size={20} color={RED}>A類型環境基準値（1,000MPN/100mL以下）</Txt>
      <Txt x={217} y={1662} color={RED} ls={3}>A類型環境基準値</Txt>
      <Txt x={223} y={1691} color={RED}>（1,000MPN/100mL以下）</Txt>
    </div>
  );
}
